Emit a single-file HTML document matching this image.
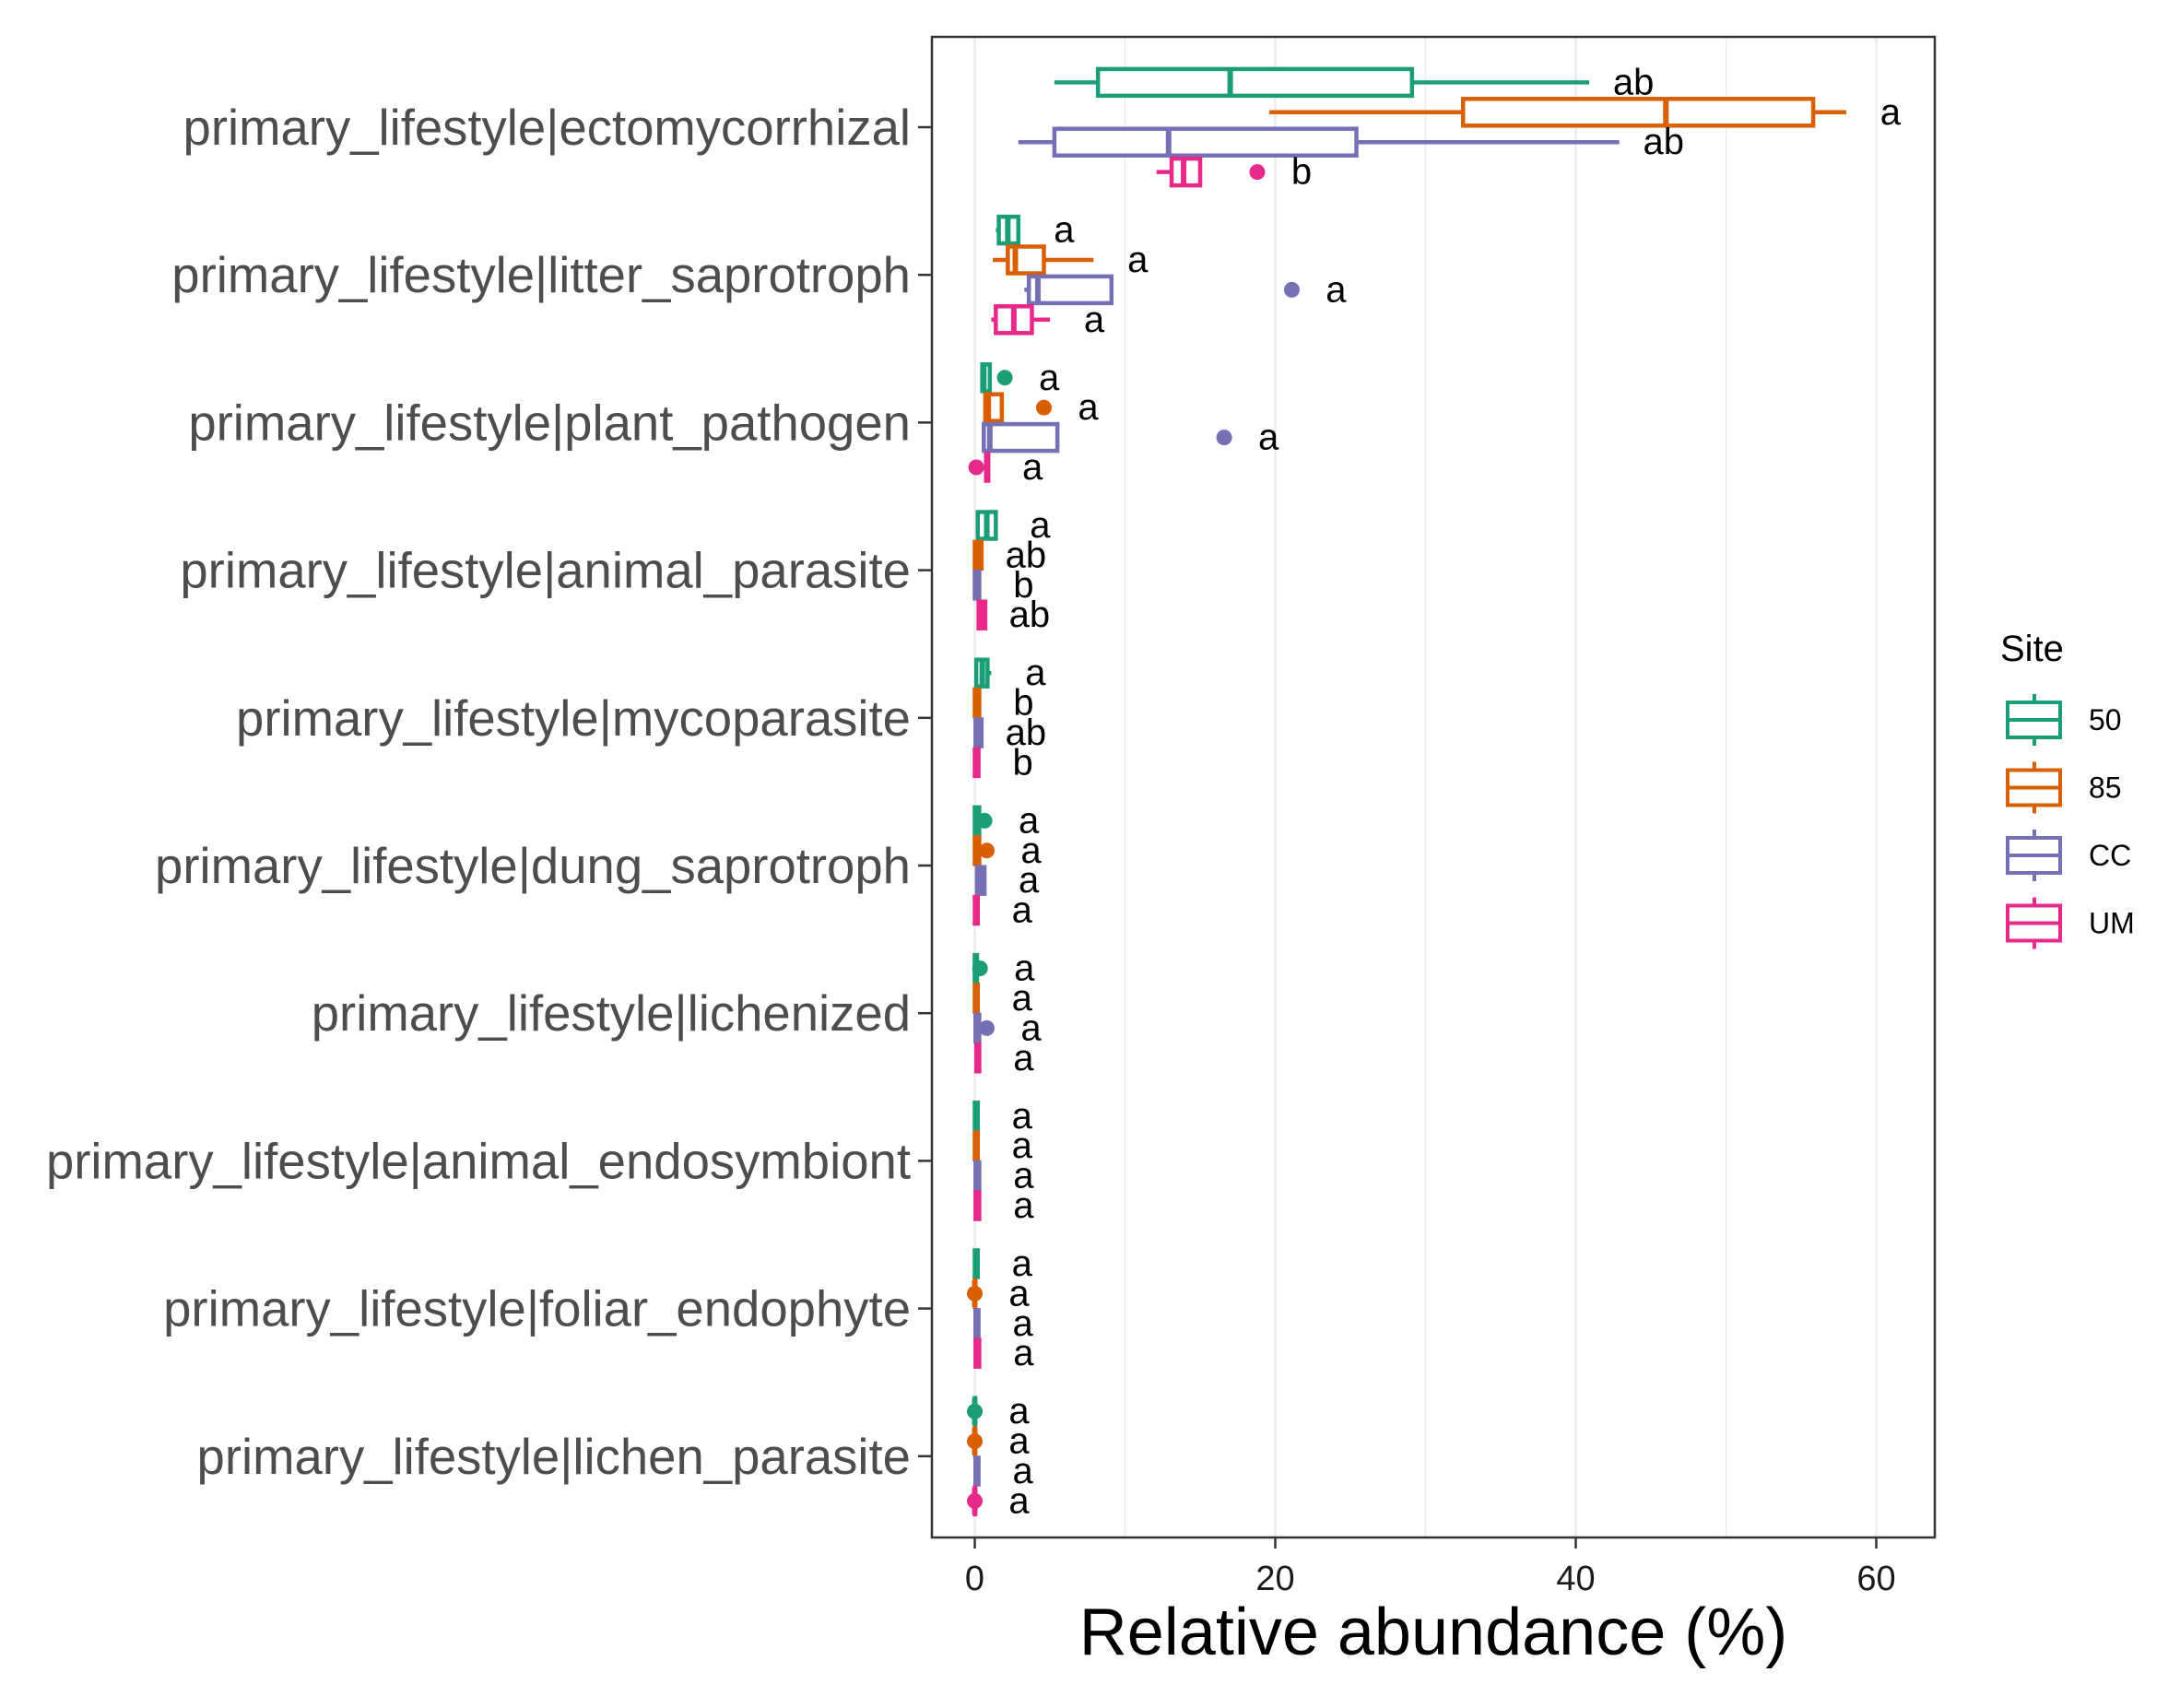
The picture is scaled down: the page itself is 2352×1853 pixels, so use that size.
<!DOCTYPE html>
<html><head><meta charset="utf-8"><style>body{margin:0;background:#fff}svg{display:block}text{font-family:"Liberation Sans",Arial,sans-serif}</style></head>
<body>
<svg id="chart" width="2352" height="1853" xmlns="http://www.w3.org/2000/svg"></svg>
<script>
const categories = ["ectomycorrhizal","litter_saprotroph","plant_pathogen","animal_parasite","mycoparasite","dung_saprotroph","lichenized","animal_endosymbiont","foliar_endophyte","lichen_parasite"];
const sites = ["50","85","CC","UM"];
const colors = ["#1B9E77","#D95F02","#7570B3","#E7298A"];
// each entry: [whiskerLow, q1, median, q3, whiskerHigh] per site per category
const stats50 = [[5.3,8.2,17.0,29.1,40.9],[1.4,1.6,2.2,2.9,3.0],[0.4,0.5,0.6,1.0,1.0],[0.1,0.2,0.8,1.4,1.4],[0.1,0.1,0.5,0.85,1.1],[0,0,0.1,0.3,0.3],[0,0,0.05,0.15,0.15],[0,0,0.1,0.2,0.2],[0,0,0.1,0.2,0.2],[0,0,0,0,0]];
const stats85 = [[19.6,32.5,46.0,55.8,58.0],[1.2,2.2,2.7,4.6,7.9],[0.7,0.7,0.9,1.8,1.8],[0,0,0.2,0.45,0.45],[0,0,0.1,0.3,0.3],[0,0,0.1,0.3,0.3],[0,0,0.1,0.2,0.2],[0,0,0.1,0.2,0.2],[0,0,0,0,0],[0,0,0,0,0]];
const statsCC = [[2.9,5.3,12.9,25.4,42.9],[3.3,3.6,4.2,9.1,9.1],[0.6,0.6,1.0,5.5,5.5],[0,0,0.1,0.3,0.3],[0,0.05,0.2,0.45,0.45],[0.1,0.15,0.4,0.65,0.65],[0,0.05,0.1,0.3,0.3],[0,0.05,0.15,0.3,0.3],[0,0.05,0.1,0.25,0.25],[0,0.05,0.1,0.25,0.25]];
const statsUM = [[12.1,13.1,13.9,15.0,15.0],[1.1,1.4,2.6,3.8,5.0],[0.7,0.75,0.8,0.9,0.9],[0.2,0.25,0.5,0.7,0.7],[0,0,0.1,0.25,0.25],[0,0,0.1,0.2,0.2],[0.1,0.1,0.2,0.3,0.3],[0,0.05,0.15,0.3,0.3],[0,0.05,0.15,0.3,0.3],[0,0,0,0,0]];
const outliers50 = [[],[],[2.0],[],[],[0.65],[0.35],[],[],[0]];
const outliers85 = [[],[],[4.6],[],[],[0.8],[],[],[0],[0]];
const outliersCC = [[],[21.1],[16.6],[],[],[],[0.8],[],[],[]];
const outliersUM = [[18.8],[],[0.1],[],[],[],[],[],[],[0]];
const letters50 = ["ab","a","a","a","a","a","a","a","a","a"];
const letters85 = ["a","a","a","ab","b","a","a","a","a","a"];
const lettersCC = ["ab","a","a","b","ab","a","a","a","a","a"];
const lettersUM = ["b","a","a","ab","b","a","a","a","a","a"];
const xTicks = [0,20,40,60];
const xGrid = [0,10,20,30,40,50,60];

const svg = document.getElementById('chart');
const NS = 'http://www.w3.org/2000/svg';
const PL=1011, PR=2099, PT=40, PB=1668;
const X = v => 1057.5 + v*16.3;
const Y = i => 138 + i*160.2;
const OFF = [-48.6,-16.2,16.2,48.6];
const BH = 29;
function mk(tag, attrs, parent){const e=document.createElementNS(NS,tag);for(const k in attrs)e.setAttribute(k,attrs[k]);(parent||svg).appendChild(e);return e;}

const panel = mk('rect',{x:PL,y:PT,width:PR-PL,height:PB-PT,fill:'#fff'});


xGrid.forEach(v=>{
  const g = mk('line',{x1:X(v),x2:X(v),y1:PT,y2:PB,stroke:'#ebebeb','stroke-width':v%20===0?2.2:1.1});
  
  
});

const allStats=[stats50,stats85,statsCC,statsUM];
const allOut=[outliers50,outliers85,outliersCC,outliersUM];
const allLet=[letters50,letters85,lettersCC,lettersUM];
categories.forEach((c,i)=>{
  sites.forEach((s,j)=>{
    const g = mk('g',{});
    
    
    const st = allStats[j][i]; const col = colors[j]; const cy = Y(i)+OFF[j];
    mk('line',{x1:X(st[0]),x2:X(st[1]),y1:cy,y2:cy,stroke:col,'stroke-width':4.5},g);
    mk('line',{x1:X(st[3]),x2:X(st[4]),y1:cy,y2:cy,stroke:col,'stroke-width':4.5},g);
    mk('rect',{x:X(st[1]),y:cy-BH/2,width:Math.max(0.5,X(st[3])-X(st[1])),height:BH,fill:'#fff',stroke:col,'stroke-width':4.5},g);
    mk('line',{x1:X(st[2]),x2:X(st[2]),y1:cy-BH/2,y2:cy+BH/2,stroke:col,'stroke-width':6},g);
    let mx = st[4];
    allOut[j][i].forEach(o=>{
      const p = mk('circle',{cx:X(o),cy:cy,r:8.5,fill:col},g);
      
      
      mx=Math.max(mx,o);
    });
    const t = mk('text',{x:X(mx)+48,y:cy+13,'font-size':40,'text-anchor':'middle',fill:'#000'},g);
    
    
    t.textContent = allLet[j][i];
  });
  const tk = mk('line',{x1:996,x2:PL,y1:Y(i),y2:Y(i),stroke:'#333','stroke-width':2.5});
  
  
  const lb = mk('text',{x:988,y:Y(i)+19,'font-size':54.5,'text-anchor':'end',fill:'#4d4d4d'});
  
  
  lb.textContent = 'primary_lifestyle|'+c;
});
const border = mk('rect',{x:PL,y:PT,width:PR-PL,height:PB-PT,fill:'none',stroke:'#333','stroke-width':2.5});


xTicks.forEach(v=>{
  const tk = mk('line',{x1:X(v),x2:X(v),y1:PB,y2:PB+12,stroke:'#333','stroke-width':2.5});
  
  
  const t = mk('text',{x:X(v),y:1725,'font-size':38,'text-anchor':'middle',fill:'#1a1a1a'});
  
  
  t.textContent = v;
});
const xt = mk('text',{x:1555,y:1795,'font-size':72,'text-anchor':'middle',fill:'#000'});


xt.textContent = 'Relative abundance (%)';

const lt = mk('text',{x:2170,y:717,'font-size':40,fill:'#000'});


lt.textContent = 'Site';
sites.forEach((s,j)=>{
  const g = mk('g',{});
  
  
  const cy = 781 + j*73.5, col = colors[j];
  mk('line',{x1:2207,x2:2207,y1:cy-28,y2:cy+28,stroke:col,'stroke-width':4},g);
  mk('rect',{x:2178,y:cy-19,width:57,height:38,fill:'#fff',stroke:col,'stroke-width':4},g);
  mk('line',{x1:2178,x2:2235,y1:cy,y2:cy,stroke:col,'stroke-width':4},g);
  const t = mk('text',{x:2266,y:cy+11,'font-size':32,fill:'#000'},g);
  t.textContent = s;
});
</script>
</body></html>
